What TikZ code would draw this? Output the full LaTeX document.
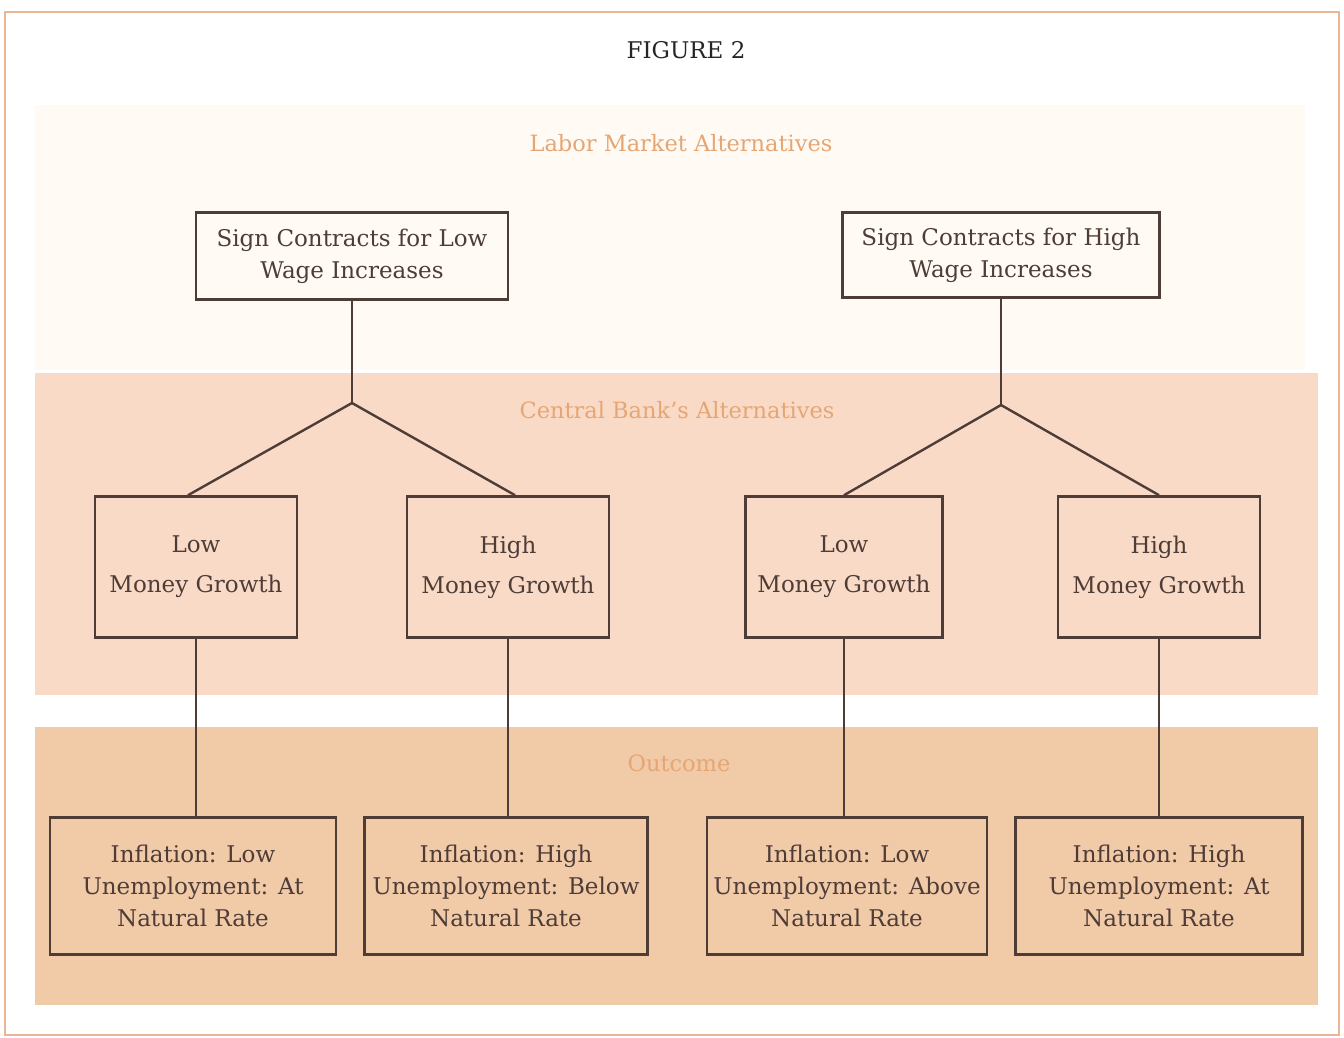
\documentclass[tikz,border=0pt]{standalone}
\usepackage{fontspec}
\setmainfont{DejaVu Serif}
\usetikzlibrary{positioning}
\definecolor{inkbrown}{HTML}{4E3C37}
\definecolor{framecol}{HTML}{E9B795}
\definecolor{bandtop}{HTML}{FFFAF3}
\definecolor{bandmid}{HTML}{F9DAC6}
\definecolor{bandlow}{HTML}{F1CAA8}
\definecolor{labelcol}{HTML}{E6A674}
\tikzset{
    box/.style={draw=inkbrown, line width=2.6pt, align=center, text=inkbrown, inner sep=0pt, font=\fontsize{23}{32}\selectfont}, % every framed box
    money/.style={box, minimum width=202, minimum height=141, font=\fontsize{23}{40}\selectfont}, % central bank choices
    band/.style={font=\fontsize{22.5}{26}\selectfont, text=labelcol}, % the heading of each band
    branch/.style={draw=inkbrown, line width=2.4pt}
}
\begin{document}
\begin{tikzpicture}[x=1pt, y=-1pt]
    \useasboundingbox (0,0) rectangle (1344,1038);
    % bands
    \fill[bandtop] (35,105) rectangle (1305,370);
    \fill[bandmid] (35,373) rectangle (1318,695);
    \fill[bandlow] (35,727) rectangle (1318,1005);
    \draw[framecol, line width=2pt] (5,12) rectangle (1339,1035);

    \node[font=\fontsize{23}{26}\selectfont, text=black!85] (title) at (686,50) {FIGURE 2};
    \node[band] (lab) at (681,143) {Labor Market Alternatives};
    \node[band] (cb) at (677,410) {Central Bank's Alternatives};
    \node[band] (out) at (679,763) {Outcome};

    \node[box, minimum width=312, minimum height=87] (lw) at (352,256) {Sign Contracts for Low\\Wage Increases};
    \node[box, minimum width=317, minimum height=85] (hw) at (1001,255) {Sign Contracts for High\\Wage Increases};

    \node[money] (m1) at (196,567) {Low\\Money Growth};
    \node[money] (m2) at (508,567) {High\\Money Growth};
    \node[money, minimum width=197] (m3) at (844,567) {Low\\Money Growth};
    \node[money] (m4) at (1159,567) {High\\Money Growth};

    \node[box, minimum width=286, minimum height=137] (o1) at (193,886) {Inflation: Low\\Unemployment: At\\Natural Rate};
    \node[box, minimum width=283, minimum height=137] (o2) at (506,886) {Inflation: High\\Unemployment: Below\\Natural Rate};
    \node[box, minimum width=280, minimum height=137] (o3) at (847,886) {Inflation: Low\\Unemployment: Above\\Natural Rate};
    \node[box, minimum width=287, minimum height=137] (o4) at (1159,886) {Inflation: High\\Unemployment: At\\Natural Rate};

    \coordinate (b1) at (352,403);
    \coordinate (b2) at (1001,405);

    \draw[branch] (lw.south) -- (b1);
    \draw[branch] (b1) -- ([xshift=-8]m1.north);
    \draw[branch] (b1) -- ([xshift=7]m2.north);
    \draw[branch] (hw.south) -- (b2);
    \draw[branch] (b2) -- (m3.north);
    \draw[branch] (b2) -- (m4.north);

    \draw[branch] (m1.south) -- (m1.south |- o1.north);
    \draw[branch] (m2.south) -- (m2.south |- o2.north);
    \draw[branch] (m3.south) -- (m3.south |- o3.north);
    \draw[branch] (m4.south) -- (m4.south |- o4.north);
\end{tikzpicture}
\end{document}
